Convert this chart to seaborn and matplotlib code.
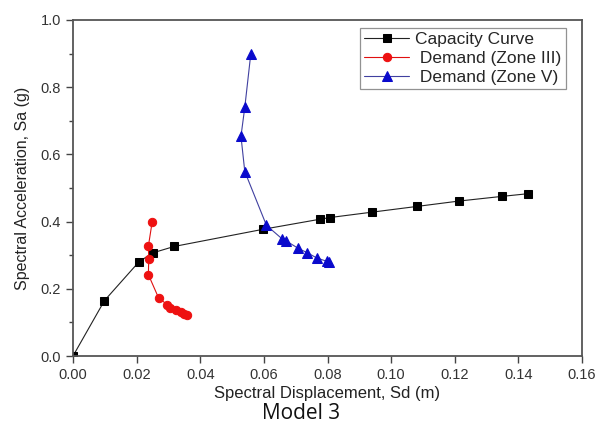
import matplotlib
matplotlib.use("Agg")
import matplotlib.pyplot as plt
import seaborn as sns
from matplotlib.ticker import MultipleLocator, FormatStrFormatter

# Capacity curve
cap_sd = [0.0, 0.0099, 0.0208, 0.0251, 0.0318, 0.0597, 0.0776, 0.0807, 0.0939, 0.108, 0.1212, 0.1348, 0.143]
cap_sa = [0.0, 0.165, 0.281, 0.307, 0.326, 0.377, 0.407, 0.412, 0.428, 0.445, 0.461, 0.475, 0.483]

# Demand (Zone III)
z3_sd = [0.0249, 0.0237, 0.0238, 0.0237, 0.0269, 0.0296, 0.0304, 0.0325, 0.0338, 0.0349, 0.0359]
z3_sa = [0.400, 0.327, 0.289, 0.242, 0.173, 0.153, 0.144, 0.136, 0.131, 0.126, 0.123]

# Demand (Zone V)
z5_sd = [0.0559, 0.0540, 0.0528, 0.0540, 0.0608, 0.0658, 0.0671, 0.0707, 0.0737, 0.0766, 0.0797, 0.0806]
z5_sa = [0.900, 0.740, 0.654, 0.549, 0.389, 0.348, 0.342, 0.321, 0.307, 0.292, 0.282, 0.279]

series_labels = ["Capacity Curve", " Demand (Zone III)", " Demand (Zone V)"]

sns.set_style("white")
plt.rcParams['font.family'] = ['Liberation Sans', 'DejaVu Sans']

fig = plt.figure(figsize=(5.98, 4.25), dpi=100)
ax = fig.add_axes([73/598, 1 - 356/425, (582 - 73)/598, (356 - 20)/425])

sns.lineplot(x=cap_sd, y=cap_sa, ax=ax, sort=False, estimator=None, color="#222222",
             linewidth=0.8, marker="s", markersize=5.5, markerfacecolor="black",
             markeredgecolor="black", label=series_labels[0])
sns.lineplot(x=z3_sd, y=z3_sa, ax=ax, sort=False, estimator=None, color="#e01010",
             linewidth=0.8, marker="o", markersize=6, markerfacecolor="#ee1111",
             markeredgecolor="#ee1111", label=series_labels[1])
sns.lineplot(x=z5_sd, y=z5_sa, ax=ax, sort=False, estimator=None, color="#4040a0",
             linewidth=0.8, marker="^", markersize=6.5, markerfacecolor="#0a0acc",
             markeredgecolor="#0a0acc", label=series_labels[2])

ax.set_xlim(0, 0.16)
ax.set_ylim(0, 1.0)
ax.xaxis.set_major_locator(MultipleLocator(0.02))
ax.xaxis.set_major_formatter(FormatStrFormatter('%.2f'))
ax.yaxis.set_major_locator(MultipleLocator(0.2))
ax.yaxis.set_minor_locator(MultipleLocator(0.1))
ax.yaxis.set_major_formatter(FormatStrFormatter('%.1f'))

ax.tick_params(axis='both', which='major', direction='out', length=5, width=1,
               color='#444444', labelsize=10.5, labelcolor='#333333', bottom=True, left=True)
ax.tick_params(axis='y', which='minor', direction='out', length=3, width=1,
               color='#444444', left=True)

for s in ax.spines.values():
    s.set_color('#555555')
    s.set_linewidth(1.3)
    s.set_visible(True)

ax.set_xlabel("Spectral Displacement, Sd (m)", fontsize=12, color='#222222', labelpad=3)
ax.set_ylabel("Spectral Acceleration, Sa (g)", fontsize=11.5, color='#222222', labelpad=8)

leg = ax.legend(loc='upper right', bbox_to_anchor=((566 - 73)/509, (356 - 28)/336),
                borderaxespad=0, fontsize=12.5, frameon=True, fancybox=False,
                edgecolor='#777777', borderpad=0.25, labelspacing=0.2,
                handlelength=2.6, handletextpad=0.35)
leg.get_frame().set_linewidth(0.9)

fig.text(301/598, 1 - 419/425, "Model 3", ha='center', va='baseline', fontsize=15,
         family=['Open Sans', 'DejaVu Sans'], color='#111111')

fig.savefig("out.png", dpi=100)
